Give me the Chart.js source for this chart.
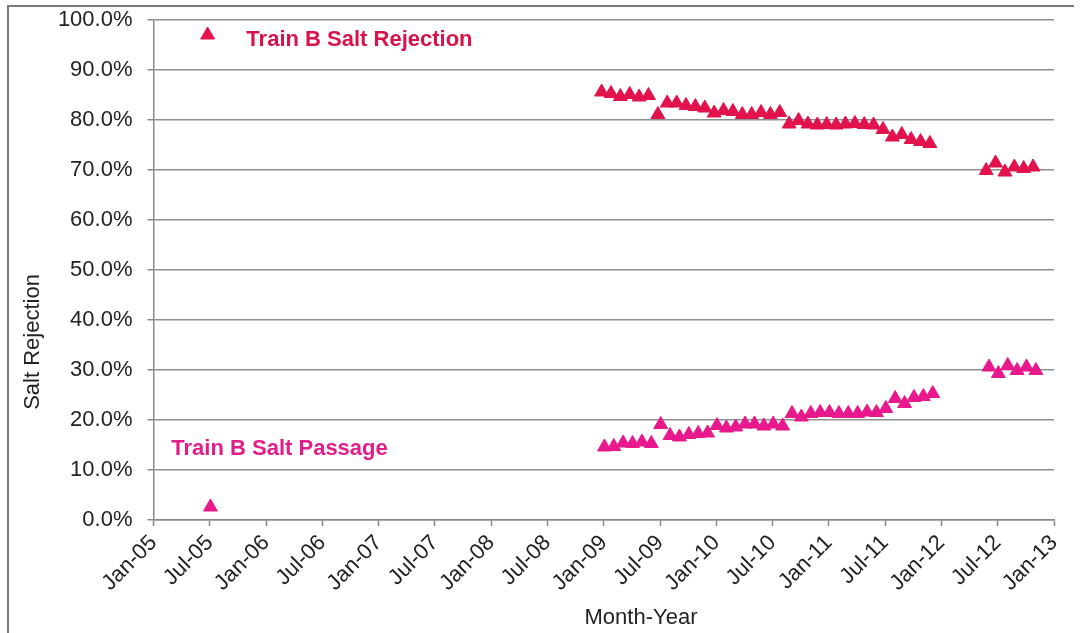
<!DOCTYPE html>
<html>
<head>
<meta charset="utf-8">
<title>Train B Salt Rejection</title>
<script src="https://cdn.jsdelivr.net/npm/chart.js@4/dist/chart.umd.min.js"></script>
<style>
    html, body { margin: 0; padding: 0; background: #ffffff; }
    canvas { display: block; }
</style>
</head>
<body>
<canvas id="saltChart" width="1084" height="633"></canvas>
<script>
// Sample months (one reading per month)
const months = [
    "Jun-05",
    "Dec-08", "Jan-09", "Feb-09", "Mar-09", "Apr-09", "May-09", "Jun-09", "Jul-09", "Aug-09", "Sep-09", "Oct-09", "Nov-09",
    "Dec-09", "Jan-10", "Feb-10", "Mar-10", "Apr-10", "May-10", "Jun-10", "Jul-10", "Aug-10", "Sep-10", "Oct-10", "Nov-10",
    "Dec-10", "Jan-11", "Feb-11", "Mar-11", "Apr-11", "May-11", "Jun-11", "Jul-11", "Aug-11", "Sep-11", "Oct-11", "Nov-11",
    "May-12", "Jun-12", "Jul-12", "Aug-12", "Sep-12", "Oct-12"
];

// Salt rejection, %
const rejection = [
    97.0,
    85.6, 85.3, 84.7, 85.1, 84.6, 84.9, 81.1, 83.4, 83.4, 82.9, 82.7, 82.4,
    81.4, 81.9, 81.7, 81.1, 81.1, 81.5, 81.1, 81.5, 79.2, 79.9, 79.2, 79.0,
    79.1, 79.0, 79.2, 79.3, 79.1, 79.0, 78.1, 76.6, 77.1, 76.1, 75.7, 75.3,
    69.9, 71.4, 69.6, 70.6, 70.3, 70.6
];

// Salt passage, %
const passage = [
    2.6,
    14.6, 14.7, 15.4, 15.3, 15.6, 15.3, 19.1, 16.9, 16.6, 17.1, 17.3, 17.4,
    18.9, 18.4, 18.6, 19.2, 19.2, 18.8, 19.2, 18.8, 21.3, 20.6, 21.3, 21.5,
    21.5, 21.3, 21.3, 21.3, 21.6, 21.5, 22.3, 24.3, 23.3, 24.5, 24.7, 25.3,
    30.6, 29.3, 30.9, 29.9, 30.6, 29.9
];

// Axis: months counted from Jan-05
const monthNames = ["Jan", "Feb", "Mar", "Apr", "May", "Jun", "Jul", "Aug", "Sep", "Oct", "Nov", "Dec"];
const xMin = 0;     // Jan-05
const xMax = 96;    // Jan-13
const xStep = 6;

const REJ_COLOR = "#e2124c";
const PAS_COLOR = "#e8198c";
const FONT = '"Liberation Sans", Arial, Helvetica, sans-serif';

// "Mar-09" -> months after Jan-05
function monthIndex(label) {
    let parts = label.split("-");
    return (2000 + parseInt(parts[1]) - 2005) * 12 + monthNames.indexOf(parts[0]);
}

function tickLabel(v) {
    let y = 2005 + Math.floor(v / 12);
    return monthNames[v % 12] + "-" + String(y).slice(2);
}

// Readings sit late in the month for rejection and at the turn of the month for passage
const rejectionPoints = months.map((m, i) => ({ x: monthIndex(m) + 0.77, y: rejection[i] }));
const passagePoints = months.map((m, i) => ({ x: monthIndex(m) + 1.07, y: passage[i] }));

// Frame, text labels and axis titles
const extras = {
    id: "extras",
    beforeDraw(chart) {
        let ctx = chart.ctx;
        ctx.save();
        ctx.strokeStyle = "#7a7a7a";
        ctx.lineWidth = 2;
        ctx.beginPath();
        ctx.moveTo(8, 640);
        ctx.lineTo(8, 6);
        ctx.lineTo(1074, 6);
        ctx.stroke();
        ctx.restore();
    },
    afterDraw(chart) {
        let ctx = chart.ctx;
        let x = chart.scales.x;
        let y = chart.scales.y;
        ctx.save();
        ctx.textBaseline = "middle";
        ctx.textAlign = "left";
        ctx.font = "bold 22px " + FONT;
        ctx.fillStyle = "#d8124a";
        ctx.fillText("Train B Salt Rejection", x.getPixelForValue(9.9), y.getPixelForValue(96));
        ctx.fillStyle = "#e21d8a";
        ctx.fillText("Train B Salt Passage", x.getPixelForValue(1.9), y.getPixelForValue(14.2));

        ctx.font = "22px " + FONT;
        ctx.fillStyle = "#222222";
        ctx.textAlign = "center";
        ctx.fillText("Month-Year", 641, 618);
        ctx.translate(33, 342);
        ctx.rotate(-Math.PI / 2);
        ctx.fillText("Salt Rejection", 0, 0);
        ctx.restore();
    }
};

let ctx = document.getElementById("saltChart").getContext("2d");

new Chart(ctx, {
    type: "scatter",
    data: {
        datasets: [
            {
                label: "Train B Salt Rejection",
                data: rejectionPoints,
                pointStyle: "triangle",
                pointRadius: 8,
                pointBackgroundColor: REJ_COLOR,
                pointBorderColor: REJ_COLOR,
                pointBorderWidth: 1
            },
            {
                label: "Train B Salt Passage",
                data: passagePoints,
                pointStyle: "triangle",
                pointRadius: 8,
                pointBackgroundColor: PAS_COLOR,
                pointBorderColor: PAS_COLOR,
                pointBorderWidth: 1
            }
        ]
    },
    options: {
        responsive: false,
        animation: false,
        devicePixelRatio: 1,
        layout: { padding: { left: 0, right: 30, top: 20, bottom: 0 } },
        plugins: {
            legend: { display: false },
            tooltip: { enabled: false }
        },
        scales: {
            x: {
                type: "linear",
                min: xMin,
                max: xMax,
                afterFit(scale) {
                    scale.height = 113;
                    scale.paddingLeft = 0;
                    scale.paddingRight = 0;
                },
                afterBuildTicks(scale) {
                    scale.ticks = [];
                    for (let v = xMin; v <= xMax; v += xStep) scale.ticks.push({ value: v });
                },
                ticks: {
                    callback: (v) => tickLabel(v),
                    minRotation: 45,
                    maxRotation: 45,
                    padding: 4,
                    color: "#222222",
                    font: { family: FONT, size: 22 }
                },
                grid: {
                    drawOnChartArea: false,
                    drawTicks: true,
                    tickLength: 6,
                    tickColor: "#888888",
                    tickWidth: 1.5
                },
                border: { color: "#8a8a8a", width: 1.5 }
            },
            y: {
                min: 0,
                max: 100,
                afterFit(scale) {
                    scale.width = 153.5;
                    scale.paddingTop = 0;
                    scale.paddingBottom = 0;
                },
                ticks: {
                    stepSize: 10,
                    callback: (v) => v.toFixed(1) + "%",
                    padding: 15,
                    color: "#222222",
                    font: { family: FONT, size: 22 }
                },
                grid: {
                    color: "#8f8f8f",
                    lineWidth: 1.5,
                    drawTicks: true,
                    tickLength: 6,
                    tickColor: "#888888"
                },
                border: { color: "#8a8a8a", width: 1.5 }
            }
        }
    },
    plugins: [extras]
});
</script>
</body>
</html>
